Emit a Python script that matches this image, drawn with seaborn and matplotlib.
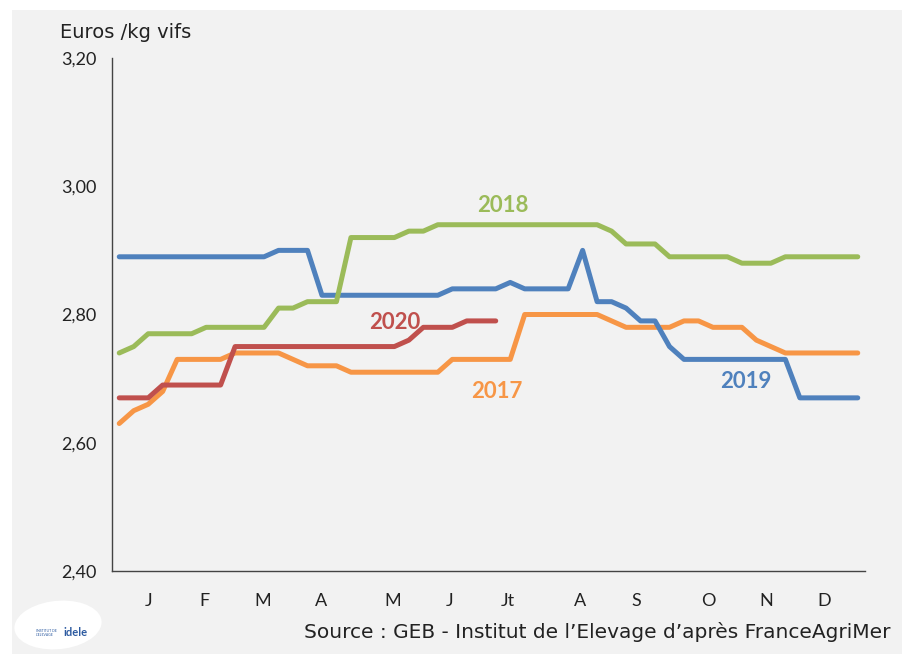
import numpy as np
import pandas as pd
import seaborn as sns
import matplotlib.pyplot as plt
from matplotlib.patches import Rectangle, Ellipse

# weekly prices, euros / kg vifs
weeks = list(range(1, 53))
prix_2017 = [2.63, 2.65, 2.66, 2.68, 2.73, 2.73, 2.73, 2.73, 2.74, 2.74, 2.74, 2.74, 2.73,
             2.72, 2.72, 2.72, 2.71, 2.71, 2.71, 2.71, 2.71, 2.71, 2.71, 2.73, 2.73, 2.73,
             2.73, 2.73, 2.80, 2.80, 2.80, 2.80, 2.80, 2.80, 2.79, 2.78, 2.78, 2.78, 2.78,
             2.79, 2.79, 2.78, 2.78, 2.78, 2.76, 2.75, 2.74, 2.74, 2.74, 2.74, 2.74, 2.74]
prix_2018 = [2.74, 2.75, 2.77, 2.77, 2.77, 2.77, 2.78, 2.78, 2.78, 2.78, 2.78, 2.81, 2.81,
             2.82, 2.82, 2.82, 2.92, 2.92, 2.92, 2.92, 2.93, 2.93, 2.94, 2.94, 2.94, 2.94,
             2.94, 2.94, 2.94, 2.94, 2.94, 2.94, 2.94, 2.94, 2.93, 2.91, 2.91, 2.91, 2.89,
             2.89, 2.89, 2.89, 2.89, 2.88, 2.88, 2.88, 2.89, 2.89, 2.89, 2.89, 2.89, 2.89]
prix_2019 = [2.89, 2.89, 2.89, 2.89, 2.89, 2.89, 2.89, 2.89, 2.89, 2.89, 2.89, 2.90, 2.90,
             2.90, 2.83, 2.83, 2.83, 2.83, 2.83, 2.83, 2.83, 2.83, 2.83, 2.84, 2.84, 2.84,
             2.84, 2.85, 2.84, 2.84, 2.84, 2.84, 2.90, 2.82, 2.82, 2.81, 2.79, 2.79, 2.75,
             2.73, 2.73, 2.73, 2.73, 2.73, 2.73, 2.73, 2.73, 2.67, 2.67, 2.67, 2.67, 2.67]
prix_2020 = [2.67, 2.67, 2.67, 2.69, 2.69, 2.69, 2.69, 2.69, 2.75, 2.75, 2.75, 2.75, 2.75,
             2.75, 2.75, 2.75, 2.75, 2.75, 2.75, 2.75, 2.76, 2.78, 2.78, 2.78, 2.79, 2.79,
             2.79]

mois = ['J', 'F', 'M', 'A', 'M', 'J', 'Jt', 'A', 'S', 'O', 'N', 'D']
mois_pos = [3.0, 6.9, 10.9, 14.9, 19.9, 23.8, 27.8, 32.8, 36.7, 41.7, 45.7, 49.7]
y_ticks = [2.40, 2.60, 2.80, 3.00, 3.20]

couleurs = {'2017': '#f79646', '2018': '#9bbb59', '2019': '#4f81bd', '2020': '#c0504d'}

frames = []
for an, vals in [('2017', prix_2017), ('2019', prix_2019), ('2018', prix_2018), ('2020', prix_2020)]:
    frames.append(pd.DataFrame({'semaine': weeks[:len(vals)], 'prix': vals, 'annee': an}))
df = pd.concat(frames, ignore_index=True)

sns.set_style('white')
plt.rcParams['font.family'] = ['Lato', 'DejaVu Sans']

fig = plt.figure(figsize=(9.02, 6.54), dpi=100)
fig.patch.set_facecolor('white')
fig.patches.append(Rectangle((12 / 902, 0), 1, 1 - 10 / 654, transform=fig.transFigure,
                             facecolor='#f2f2f2', edgecolor='none', zorder=-10))

ax = fig.add_axes([112 / 902, 1 - 571 / 654, (865 - 112) / 902, (571 - 58) / 654])
ax.set_facecolor('#f2f2f2')

sns.lineplot(data=df, x='semaine', y='prix', hue='annee', palette=couleurs,
             hue_order=['2017', '2019', '2018', '2020'], linewidth=3.6, legend=False, ax=ax)
for line in ax.lines:
    line.set_solid_capstyle('round')
    line.set_solid_joinstyle('round')

ax.set_xlim(0.5, 52.5)
ax.set_ylim(2.40, 3.20)
ax.set_yticks(y_ticks)
ax.set_yticklabels([f'{v:.2f}'.replace('.', ',') for v in y_ticks], fontsize=13, color='#222222')
ax.set_xticks(np.arange(0.5, 52, 4.5))
ax.set_xticklabels([])
ax.set_xticks(mois_pos, minor=True)
ax.set_xticklabels(mois, minor=True, fontsize=13, color='#222222')
ax.tick_params(axis='x', which='major', length=5, width=1, color='#444444', direction='out')
ax.tick_params(axis='x', which='minor', length=0, pad=16)
ax.tick_params(axis='y', length=5, width=1, color='#444444', direction='out', pad=6)
ax.set_xlabel('')
ax.set_ylabel('')
for s in ['top', 'right']:
    ax.spines[s].set_visible(False)
for s in ['left', 'bottom']:
    ax.spines[s].set_color('#444444')
    ax.spines[s].set_linewidth(1)

# year labels
ax.text(27.5, 2.970, '2018', color=couleurs['2018'], fontsize=16, fontweight='bold', ha='center', va='center')
ax.text(20.0, 2.7875, '2020', color=couleurs['2020'], fontsize=16, fontweight='bold', ha='center', va='center')
ax.text(27.1, 2.680, '2017', color=couleurs['2017'], fontsize=16, fontweight='bold', ha='center', va='center')
ax.text(44.3, 2.6955, '2019', color=couleurs['2019'], fontsize=16, fontweight='bold', ha='center', va='center')

fig.text(60 / 902, 1 - 32 / 654, 'Euros /kg vifs', fontsize=14, color='#222222', va='center',
         family='DejaVu Sans')
fig.text(890 / 902, 1 - 632 / 654, "Source : GEB - Institut de l\u2019Elevage d\u2019apr\u00e8s FranceAgriMer",
         fontsize=14.5, color='#222222', ha='right', va='center', family='DejaVu Sans')

# rough idele logo
fig.patches.append(Ellipse((58 / 902, 1 - 625 / 654), 88 / 902, 48 / 654, angle=12,
                           transform=fig.transFigure, facecolor='white', edgecolor='none'))
fig.text(63 / 902, 1 - 633 / 654, 'idele', fontsize=8, fontweight='bold', color='#2c5aa0', va='center')
fig.text(36 / 902, 1 - 633 / 654, 'INSTITUT DE\nL\u2019ELEVAGE', fontsize=2.5, color='#2c5aa0', va='center')

fig.savefig('out.png', dpi=100, facecolor=fig.get_facecolor())
